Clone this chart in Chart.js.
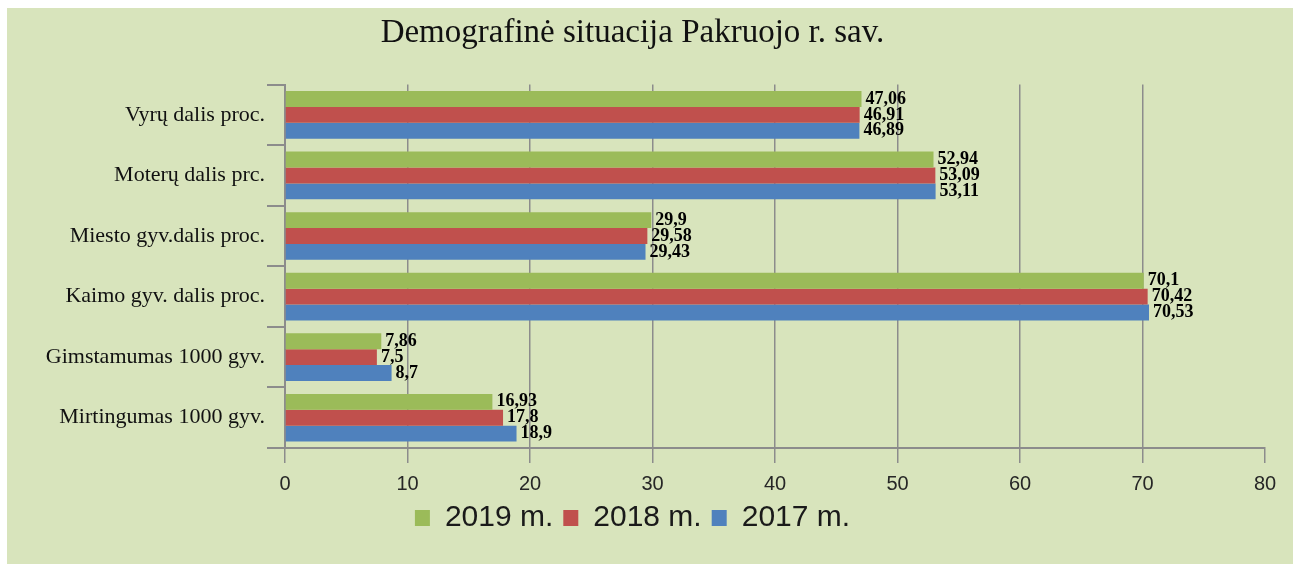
<!DOCTYPE html>
<html lang="lt">
<head>
  <meta charset="UTF-8">
  <title>Demografinė situacija Pakruojo r. sav.</title>
  <script src="https://cdn.jsdelivr.net/npm/chart.js"></script>
  <style>
    body { margin: 0; background: #ffffff; }
    .fonas { position: absolute; left: 7px; top: 8px; width: 1286px; height: 556px; background: #D8E4BC; }
    #grafikas { position: absolute; left: 0; top: 0; }
  </style>
</head>
<body>
  <div class="fonas"></div>
  <canvas id="grafikas" width="1299" height="564"></canvas>

<script>
  // duomenys
  const kategorijos = ['Vyrų dalis proc.', 'Moterų dalis prc.', 'Miesto gyv.dalis proc.', 'Kaimo gyv. dalis proc.', 'Gimstamumas 1000 gyv.', 'Mirtingumas 1000 gyv.'];
  const metai2019 = [47.06, 52.94, 29.9, 70.1, 7.86, 16.93];
  const metai2018 = [46.91, 53.09, 29.58, 70.42, 7.5, 17.8];
  const metai2017 = [46.89, 53.11, 29.43, 70.53, 8.7, 18.9];
  const xMin = 0, xMax = 80, xZingsnis = 10;

  const pilka = '#8c8c8c';

  // skaičiai prie stulpelių (su kableliu)
  const reiksmes = {
    id: 'reiksmes',
    afterDatasetsDraw(chart) {
      const ctx = chart.ctx;
      ctx.save();
      ctx.font = 'bold 18px "Liberation Serif", "Times New Roman", serif';
      ctx.fillStyle = '#000000';
      ctx.textAlign = 'left';
      ctx.textBaseline = 'middle';
      chart.data.datasets.forEach((ds, i) => {
        chart.getDatasetMeta(i).data.forEach((bar, j) => {
          const tekstas = String(ds.data[j]).replace('.', ',');
          ctx.fillText(tekstas, bar.x + 4, bar.y);
        });
      });
      ctx.restore();
    }
  };

  const ctx = document.getElementById('grafikas').getContext('2d');

  new Chart(ctx, {
    type: 'bar',
    data: {
      labels: kategorijos,
      datasets: [
        { label: '2019 m.', data: metai2019, backgroundColor: '#9BBB59' },
        { label: '2018 m.', data: metai2018, backgroundColor: '#C0504D' },
        { label: '2017 m.', data: metai2017, backgroundColor: '#4F81BD' }
      ]
    },
    options: {
      indexAxis: 'y',
      responsive: false,
      animation: false,
      devicePixelRatio: 1,
      barPercentage: 1,
      categoryPercentage: 0.787,
      layout: { padding: { left: 0, right: 34, top: 0, bottom: 21 } },
      scales: {
        x: {
          min: xMin,
          max: xMax,
          ticks: {
            stepSize: xZingsnis,
            padding: 9,
            color: '#262626',
            font: { family: '"Liberation Sans", Arial, sans-serif', size: 20 }
          },
          grid: {
            color: c => (c.tick && c.tick.value === xMax) ? 'rgba(0,0,0,0)' : pilka,
            tickColor: pilka,
            lineWidth: 1.5,
            tickLength: 15
          },
          border: { display: true, color: pilka, width: 2 },
          afterFit: s => { s.height = 45; }
        },
        y: {
          ticks: {
            padding: 2,
            color: '#111111',
            font: { family: '"Liberation Serif", "Times New Roman", serif', size: 22 }
          },
          grid: {
            offset: true,
            drawOnChartArea: false,
            color: pilka,
            lineWidth: 2,
            tickLength: 18
          },
          border: { display: true, color: pilka, width: 2 },
          afterFit: s => { s.width = 285; }
        }
      },
      plugins: {
        title: {
          display: true,
          text: 'Demografinė situacija Pakruojo r. sav.',
          color: '#111111',
          font: { family: '"Liberation Serif", "Times New Roman", serif', size: 33, weight: 'normal' },
          padding: { top: 14, bottom: 31 }
        },
        legend: {
          position: 'bottom',
          labels: {
            boxWidth: 15,
            boxHeight: 16,
            padding: 10,
            color: '#1a1a1a',
            font: { family: '"Liberation Sans", Arial, sans-serif', size: 30 }
          }
        },
        tooltip: { enabled: false }
      }
    },
    plugins: [reiksmes]
  });
</script>
</body>
</html>
